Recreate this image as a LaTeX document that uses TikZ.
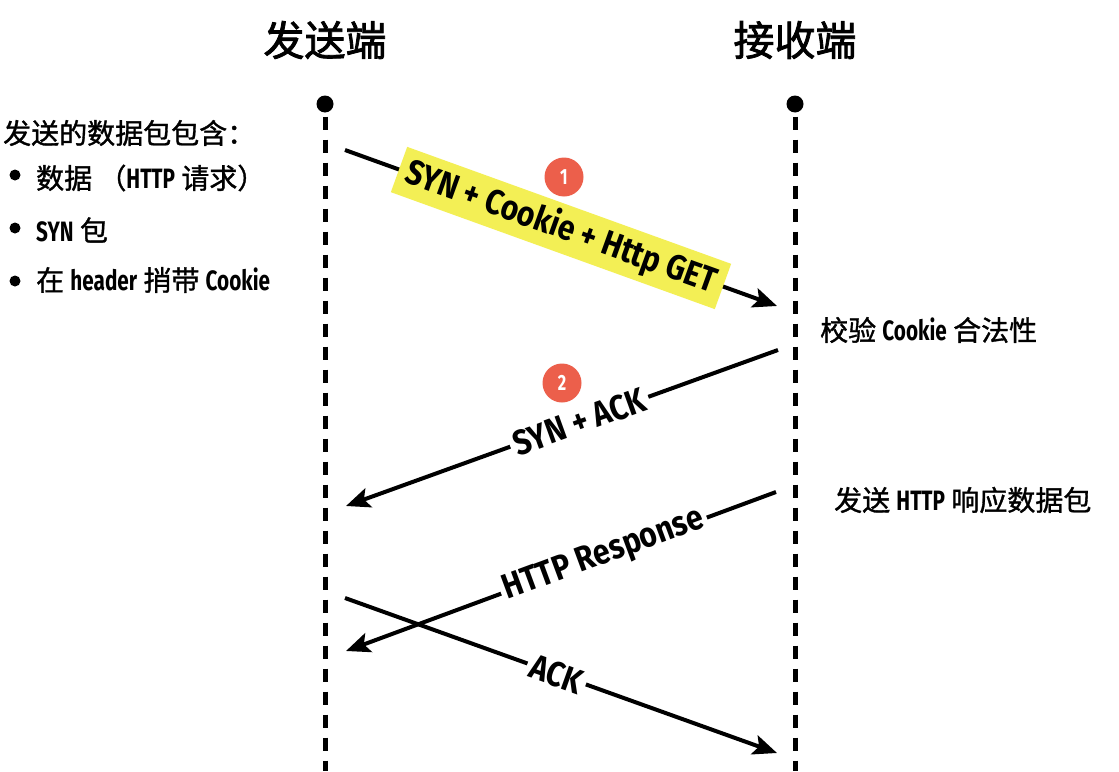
\documentclass[tikz,border=0pt]{standalone}
\usepackage{fontspec}
\usetikzlibrary{arrows.meta}
\setmainfont{Noto Sans CJK SC}
\newfontfamily\cjk[FakeBold=1.2]{Noto Sans CJK SC}
\newfontfamily\cjkt[FakeBold=2]{Noto Sans CJK SC}
\newfontfamily\lat[FakeStretch=0.74]{Fira Sans}
\newfontfamily\latl[FakeStretch=0.86]{Fira Sans}
\newcommand{\La}[1]{{\lat\bfseries #1}}
\definecolor{hly}{HTML}{F3EF55}
\definecolor{badgered}{HTML}{EC5F4B}
\begin{document}
\begin{tikzpicture}[x=1pt,y=-1pt,
  life/.style={line width=5pt, dash pattern=on 13pt off 10pt},
  msg/.style={line width=4pt, -{Stealth[length=24pt,width=20pt,inset=5pt]}},
  lbl/.style={sloped, fill=white, inner xsep=4pt, inner ysep=3pt, font=\latl\bfseries\fontsize{35}{35}\selectfont},
  hl/.style={lbl, fill=hly, inner xsep=8pt, inner ysep=6pt},
  badge/.style={circle, fill=badgered, text=white, minimum size=39pt, inner sep=0pt, font=\lat\bfseries\fontsize{22}{22}\selectfont},
  titletext/.style={font=\cjkt\fontsize{41}{41}\selectfont},
  note/.style={font=\cjk\fontsize{28}{28}\selectfont, anchor=west, inner sep=0pt},
  lifedot/.style={circle, fill=black, minimum size=17pt, inner sep=0pt},
  bul/.style={circle, fill=black, minimum size=11pt, inner sep=0pt}]
\useasboundingbox (0,0) rectangle (1119,771);
\fill[white] (0,0) rectangle (1119,771);

% titles
\node[titletext] (ts) at (325,40) {发送端};
\node[titletext] (tr) at (795,40) {接收端};

% lifelines
\node[lifedot] (ds) at (325,104) {};
\node[lifedot] (dr) at (795,104) {};
\coordinate (es) at (325,771);
\coordinate (er) at (795,771);
\draw[life] ([yshift=-4pt]ds.south) -- (es);
\draw[life] ([yshift=-4pt]dr.south) -- (er);

% messages
\coordinate (a1s) at (345,150);
\coordinate (a1e) at (777,306);
\draw[msg] (a1s) -- node[hl, pos=0.5] (l1) {SYN + Cookie + Http GET} (a1e);

\coordinate (a2s) at (778,350);
\coordinate (a2e) at (346,506);
\draw[msg] (a2s) -- node[lbl, pos=0.46] (l2) {SYN + ACK} (a2e);

\coordinate (a3s) at (776,492);
\coordinate (a3e) at (346,651);
\draw[msg] (a3s) -- node[lbl, pos=0.40] (l3) {HTTP Response} (a3e);

\coordinate (a4s) at (345,598);
\coordinate (a4e) at (777,753);
\draw[msg] (a4s) -- node[lbl, pos=0.49] (l4) {ACK} (a4e);

% badges
\node[badge] (b1) at (564,177) {1};
\node[badge] (b2) at (562,383) {2};

% left notes
\node[note] (h) at (3,133) {发送的数据包包含：};
\node[bul] (p1) at (15,175) {};
\node[bul] (p2) at (15,228) {};
\node[bul] (p3) at (15,281) {};
\node[note] (t1) at (36,178) {数据 （\La{HTTP} 请求）};
\node[note] (t2) at (36,230) {\La{SYN} 包};
\node[note] (t3) at (36,280) {在 \La{header} 捎带 \La{Cookie}};

% right notes
\node[note] (r1) at (820,330) {校验 \La{Cookie} 合法性};
\node[note] (r2) at (834,500) {发送 \La{HTTP} 响应数据包};
\end{tikzpicture}
\end{document}
